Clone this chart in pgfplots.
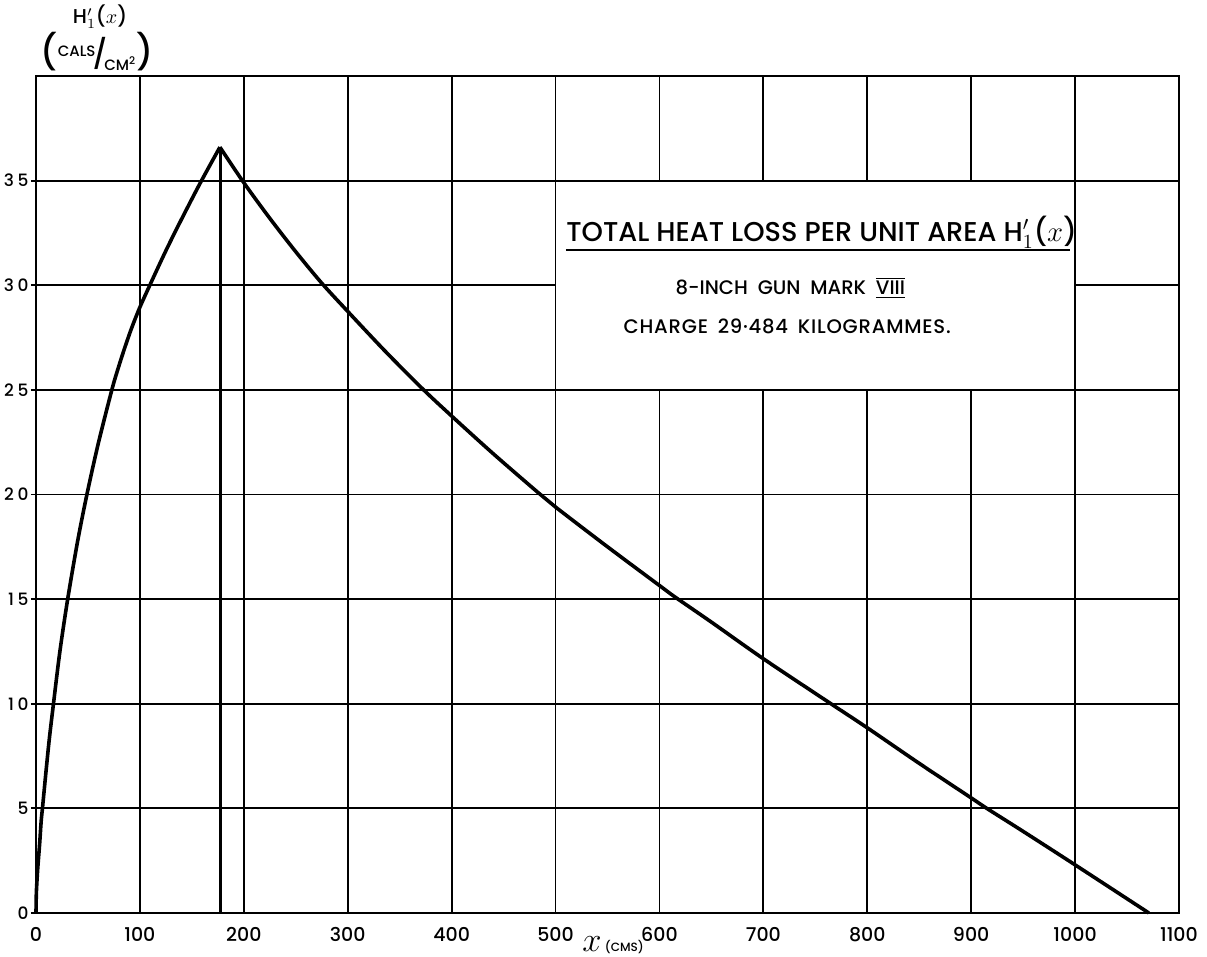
\documentclass[border=0pt]{standalone}
\usepackage{pgfplots}
\pgfplotsset{compat=1.18}
\usepackage{fontspec}
\setmainfont{Poppins}
\newfontfamily\medfont{Poppins Medium}

\pgfplotstableread{
x y
0 0
0.3 0.9
1 1.6
2 2.35
3.5 3.3
5 4.4
6.4 5.1
10 6.95
13 8.4
16.7 9.95
23 12.5
30.5 15
40 17.75
49 20
60 22.45
73 25
79 26.02
85 26.95
92 27.95
100 28.95
110 30.05
125 31.65
140 33.15
158 34.88
177 36.6
}\rising

\pgfplotstableread{
x y
177 36.6
200 34.9
225 33.2
250 31.6
275 30.1
300 28.75
336 26.85
372 25.05
400 23.75
440 21.95
483 20.1
500 19.4
550 17.5
600 15.65
615 15.1
650 13.9
700 12.15
765 10
800 8.85
850 7.15
900 5.5
915 5
950 3.9
1000 2.3
1071 0
}\falling

\begin{document}
\begin{tikzpicture}[x=1pt,y=1pt]
\begin{axis}[
  at={(18pt,22pt)}, anchor=south west,
  scale only axis, width=571.5pt, height=418.5pt,
  xmin=0, xmax=1100, ymin=0, ymax=40,
  xtick={0,100,...,1100}, ytick={0,5,...,35},
  grid=major, grid style={black, line width=0.9pt},
  axis line style={black, line width=1pt},
  tick align=outside, tick pos=left,
  major tick length=2.5pt,
  xtick style={draw=none},
  ytick style={black, line width=0.9pt},
  /pgf/number format/assume math mode=true,
  /pgf/number format/1000 sep={},
  xticklabel style={font=\medfont\fontsize{9.5}{10}\selectfont, yshift=-1pt},
  yticklabel style={font=\medfont\fontsize{8.5}{9}\selectfont\addfontfeatures{LetterSpace=22}, inner sep=1pt},
  clip=false,
]
\addplot[black, line width=1.8pt, smooth, tension=0.5] table {\rising};
\addplot[black, line width=1.8pt, smooth, tension=0.5] table {\falling};
\addplot[black, line width=1.3pt] coordinates {(177.5,0) (177.5,36.6)};

\fill[white] (axis cs:500,25) rectangle (axis cs:1000,35);
\draw[black, line width=0.9pt] (axis cs:500,25) rectangle (axis cs:1000,35);

\node[anchor=base west, inner sep=0pt, font=\medfont\fontsize{13.6}{14}\selectfont] at (axis cs:510,32.1)
  {TOTAL HEAT LOSS PER UNIT AREA H$'_{1}$($x$)};
\draw[black, line width=0.9pt] (axis cs:510,31.7) -- (axis cs:995,31.7);
\node[anchor=base, inner sep=0pt, font=\medfont\fontsize{9.8}{10}\selectfont] at (axis cs:726,29.56)
  {8-INCH\enspace GUN\enspace MARK\enspace $\overline{\underline{\mbox{VIII}}}$};
\node[anchor=base, inner sep=0pt, font=\medfont\fontsize{9.8}{10}\selectfont\addfontfeatures{LetterSpace=4}] at (axis cs:723,27.7)
  {CHARGE\enspace 29·484\enspace KILOGRAMMES.};
\end{axis}

\node[font=\medfont\fontsize{10}{11}\selectfont] at (50pt,470pt) {H$'_{1}$($x$)};
\node[font=\medfont\fontsize{9}{10}\selectfont] at (48.5pt,452.5pt)
  {{\LARGE(}\raisebox{4pt}{\fontsize{7.5}{8}\selectfont CALS}\hspace{-1.5pt}{\Large/}\hspace{-1.5pt}\raisebox{-3pt}{\fontsize{7.5}{8}\selectfont CM\textsuperscript{2}}{\LARGE)}};
\node[anchor=base west, inner sep=0pt] at (291pt,2.5pt) {{\LARGE$x$}\,{\medfont\fontsize{6}{7}\selectfont (CMS)}};

\pgfresetboundingbox
\path (0,0) rectangle (603.5pt,478.5pt);
\end{tikzpicture}
\end{document}
